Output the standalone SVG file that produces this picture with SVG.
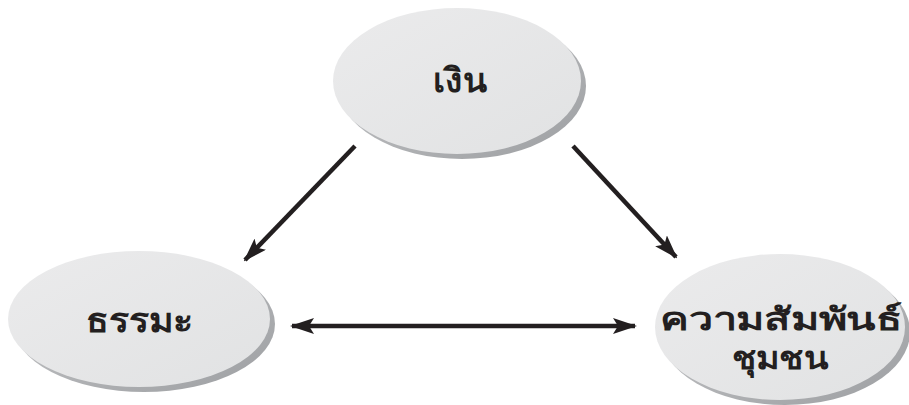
<svg xmlns="http://www.w3.org/2000/svg" width="909" height="405" viewBox="0 0 909 405">
<style>
.shadow{fill:url(#sg)}
.body{fill:url(#bg)}
.lbl{font-family:"Noto Sans","DejaVu Sans",sans-serif;font-size:34px;font-weight:bold;fill:#231f20;text-anchor:middle}
.lbl2{font-size:31px}
.conn{stroke:#231f20;stroke-width:4.5;fill:none}
</style>
<defs>
<linearGradient id="bg" x1="0" y1="0" x2="1" y2="1">
<stop offset="0" stop-color="#ebebec"/>
<stop offset="1" stop-color="#e1e2e3"/>
</linearGradient>
<linearGradient id="sg" x1="0" y1="0" x2="1" y2="1">
<stop offset="0" stop-color="#c8c9cb"/>
<stop offset="1" stop-color="#9d9fa2"/>
</linearGradient>
<marker id="ah" viewBox="0 0 24 16" refX="22" refY="8" markerWidth="24" markerHeight="16" markerUnits="userSpaceOnUse" orient="auto-start-reverse">
<path d="M24 8 L0 0 L5 8 L0 16 Z" fill="#231f20"/>
</marker>
</defs>
<g id="node-ngoen">
<ellipse class="shadow" cx="462" cy="86" rx="124" ry="73"/>
<ellipse class="body" cx="457" cy="81" rx="124" ry="73"/>
<text class="lbl" x="460" y="92" textLength="54" lengthAdjust="spacingAndGlyphs">เงิน</text>
</g>
<g id="node-thamma">
<ellipse class="shadow" cx="144" cy="324" rx="131" ry="68"/>
<ellipse class="body" cx="139" cy="319" rx="131" ry="68"/>
<text class="lbl" x="139.5" y="332" textLength="107" lengthAdjust="spacingAndGlyphs">ธรรมะ</text>
</g>
<g id="node-community">
<ellipse class="shadow" cx="785" cy="332" rx="125" ry="73"/>
<ellipse class="body" cx="780" cy="327" rx="125" ry="73"/>
<text class="lbl lbl2" x="781" y="330" textLength="242" lengthAdjust="spacingAndGlyphs">ความสัมพันธ์</text>
<text class="lbl lbl2" x="780" y="369" textLength="96" lengthAdjust="spacingAndGlyphs">ชุมชน</text>
</g>
<g id="connectors">
<line class="conn" x1="355" y1="146" x2="245" y2="260" marker-end="url(#ah)"/>
<line class="conn" x1="573" y1="146" x2="676" y2="257" marker-end="url(#ah)"/>
<line class="conn" x1="292" y1="326" x2="635" y2="326" marker-start="url(#ah)" marker-end="url(#ah)"/>
</g>
</svg>
